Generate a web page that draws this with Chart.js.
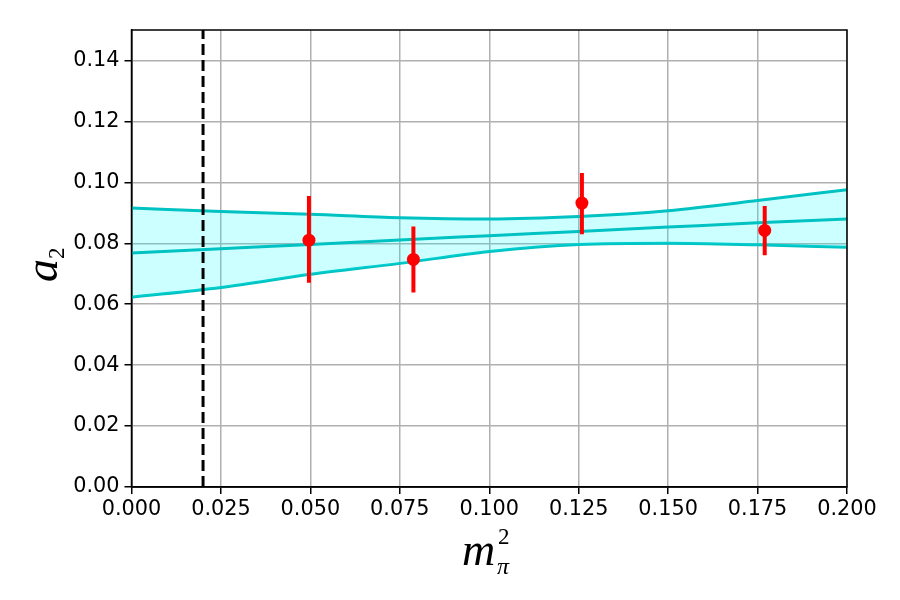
<!DOCTYPE html>
<html>
<head>
<meta charset="utf-8">
<script src="https://cdn.jsdelivr.net/npm/chart.js@4.4.0/dist/chart.umd.min.js"></script>
<style>
  body { margin: 0; background: #fff; }
  #wrap { width: 900px; height: 600px; position: relative; }
</style>
</head>
<body>
<div id="wrap"><canvas id="chart"></canvas></div>
<script>
// data
const pointX = [0.0496, 0.0788, 0.1259, 0.1770]
const pointY = [0.0810, 0.0747, 0.0932, 0.0842]
const errLow = [0.0670, 0.0638, 0.0830, 0.0761]
const errHigh = [0.0955, 0.0855, 0.1031, 0.0922]

const bandX = [0, 0.025, 0.05, 0.075, 0.1, 0.125, 0.15, 0.175, 0.2]
const bandUpper = [0.0916, 0.0904, 0.0895, 0.0884, 0.0880, 0.0888, 0.0907, 0.0940, 0.0976]
const bandCenter = [0.0768, 0.0782, 0.0796, 0.0811, 0.0825, 0.0839, 0.0853, 0.0867, 0.0880]
const bandLower = [0.0623, 0.0655, 0.0698, 0.0734, 0.0773, 0.0796, 0.0800, 0.0795, 0.0787]

const physX = 0.02
const xTicks = [0, 0.025, 0.05, 0.075, 0.1, 0.125, 0.15, 0.175, 0.2]
const yTicks = [0, 0.02, 0.04, 0.06, 0.08, 0.10, 0.12, 0.14]

const cyan = '#00c2c2'
const tickFont = {family: 'DejaVu Sans', size: 20.8}

function toXY(xs, ys){
    return xs.map((x, i) => ({x: x, y: ys[i]}))
}

let datasets = []
// points on top
datasets.push({
    data: toXY(pointX, pointY),
    showLine: false,
    pointRadius: 6.5,
    pointBackgroundColor: 'red',
    pointBorderColor: 'red',
    pointBorderWidth: 0
})
// error bars
for(let i = 0; i < pointX.length; i++){
    datasets.push({
        data: [{x: pointX[i], y: errLow[i]}, {x: pointX[i], y: errHigh[i]}],
        showLine: true,
        borderColor: 'red',
        borderWidth: 4,
        pointRadius: 0,
        borderCapStyle: 'butt'
    })
}
// dashed vertical line
datasets.push({
    data: [{x: physX, y: 0}, {x: physX, y: 0.15}],
    showLine: true,
    borderColor: 'black',
    borderWidth: 3,
    borderDash: [11, 5],
    pointRadius: 0
})
// band
datasets.push({
    data: toXY(bandX, bandCenter),
    showLine: true,
    borderColor: cyan,
    borderWidth: 3,
    pointRadius: 0,
    tension: 0.4,
    cubicInterpolationMode: 'monotone'
})
datasets.push({
    data: toXY(bandX, bandUpper),
    showLine: true,
    borderColor: cyan,
    borderWidth: 3,
    pointRadius: 0,
    tension: 0.4,
    cubicInterpolationMode: 'monotone',
    fill: '+1',
    backgroundColor: 'rgba(0,255,255,0.2)'
})
datasets.push({
    data: toXY(bandX, bandLower),
    showLine: true,
    borderColor: cyan,
    borderWidth: 3,
    pointRadius: 0,
    tension: 0.4,
    cubicInterpolationMode: 'monotone'
})

const framePlugin = {
    id: 'frame',
    afterDraw(chart){
        let ctx = chart.ctx
        let a = chart.chartArea
        ctx.save()
        ctx.strokeStyle = 'black'
        ctx.lineWidth = 1.5
        ctx.strokeRect(a.left, a.top, a.right - a.left, a.bottom - a.top)

        // axis labels
        ctx.fillStyle = 'black'
        ctx.textBaseline = 'alphabetic'
        ctx.textAlign = 'left'
        ctx.font = 'italic 46px "Liberation Serif"'
        ctx.fillText('m', 462, 565)
        ctx.font = '23px "Liberation Serif"'
        ctx.fillText('2', 498, 544)
        ctx.font = 'italic 24px "Liberation Serif"'
        ctx.fillText('π', 497, 574)

        ctx.translate(57, 266)
        ctx.rotate(-Math.PI / 2)
        ctx.font = 'italic 46px "Liberation Serif"'
        ctx.fillText('a', -16, 0)
        ctx.font = '23px "Liberation Serif"'
        ctx.fillText('2', 7, 7)
        ctx.restore()
    }
}

new Chart(document.getElementById('chart'), {
    type: 'scatter',
    data: {datasets: datasets},
    options: {
        responsive: true,
        maintainAspectRatio: false,
        animation: false,
        layout: {padding: {left: 0, top: 30, right: 53, bottom: 0}},
        plugins: {legend: {display: false}, tooltip: {enabled: false}},
        scales: {
            x: {
                type: 'linear',
                min: 0,
                max: 0.2,
                afterBuildTicks: s => { s.ticks = xTicks.map(v => ({value: v})) },
                afterFit: s => { s.height = 113 },
                grid: {color: '#b0b0b0', lineWidth: 1.5, tickColor: 'black', tickLength: 7},
                border: {color: 'black', width: 1.5},
                ticks: {
                    color: 'black',
                    font: tickFont,
                    padding: 3,
                    maxRotation: 0,
                    autoSkip: false,
                    callback: v => v.toFixed(3)
                }
            },
            y: {
                type: 'linear',
                min: 0,
                max: 0.15,
                afterBuildTicks: s => { s.ticks = yTicks.map(v => ({value: v})) },
                afterFit: s => { s.width = 131.5 },
                grid: {color: '#b0b0b0', lineWidth: 1.5, tickColor: 'black', tickLength: 7},
                border: {color: 'black', width: 1.5},
                ticks: {
                    color: 'black',
                    font: tickFont,
                    padding: 5,
                    autoSkip: false,
                    callback: v => v.toFixed(2)
                }
            }
        }
    },
    plugins: [framePlugin]
})
</script>
</body>
</html>
